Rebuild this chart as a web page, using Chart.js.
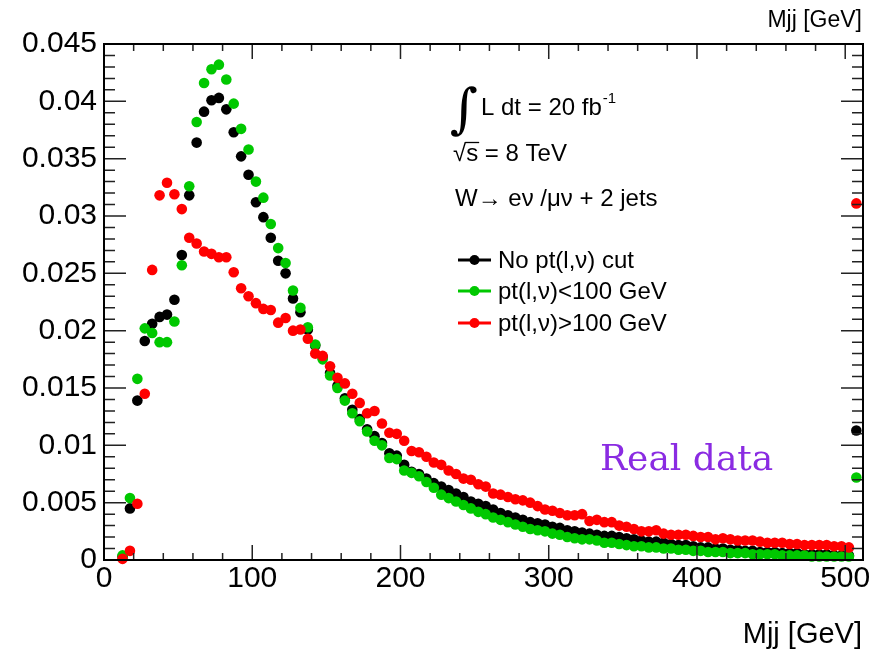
<!DOCTYPE html>
<html>
<head>
<meta charset="utf-8">
<title>Mjj distribution</title>
<script src="https://cdn.jsdelivr.net/npm/chart.js@4.4.1/dist/chart.umd.min.js"></script>
<style>
  html, body { margin: 0; padding: 0; background: #fff; }
  #wrap { width: 875px; height: 649px; }
</style>
</head>
<body>
<div id="wrap"><canvas id="mjjChart" width="875" height="649"></canvas></div>
<script>
// histogram binning: 100 bins of 5 GeV starting at 10 GeV (last bin holds the overflow)
const binLow = 10;
const binWidth = 5;
const nBins = 100;
const mjj = [];
for (let i = 0; i < nBins; i++) mjj.push(binLow + binWidth * (i + 0.5));

// normalised Mjj shapes, one row per 50 GeV
const noCut = [
  0.0003, 0.0045, 0.0139, 0.0191, 0.0206, 0.0212, 0.0214, 0.0227, 0.0266, 0.0318,
  0.0364, 0.0391, 0.0401, 0.0403, 0.0393, 0.0373, 0.0352, 0.0336, 0.0312, 0.0299,
  0.0281, 0.0261, 0.0250, 0.0228, 0.0216, 0.0201, 0.0187, 0.0177, 0.0163, 0.0152,
  0.0141, 0.0131, 0.0123, 0.0114, 0.0108, 0.0102, 0.0093, 0.0091, 0.0083, 0.0077,
  0.0075, 0.0071, 0.0067, 0.0064, 0.0061, 0.0058, 0.0055, 0.0051, 0.0049, 0.0047,
  0.0044, 0.0041, 0.0039, 0.0037, 0.0035, 0.0033, 0.0032, 0.0031, 0.0029, 0.0028,
  0.0026, 0.0025, 0.0024, 0.0023, 0.0022, 0.0021, 0.0021, 0.0020, 0.0019, 0.0018,
  0.0017, 0.0016, 0.0016, 0.0015, 0.0014, 0.0013, 0.0013, 0.0012, 0.0011, 0.0011,
  0.0010, 0.0010, 0.0009, 0.0009, 0.0008, 0.0008, 0.0007, 0.0007, 0.0007, 0.0006,
  0.0006, 0.0006, 0.0005, 0.0005, 0.0005, 0.0005, 0.0004, 0.0004, 0.0004, 0.0113
];
const ptBelow100 = [
  0.0004, 0.0054, 0.0158, 0.0202, 0.0198, 0.0190, 0.0190, 0.0208, 0.0257, 0.0326,
  0.0382, 0.0416, 0.0428, 0.0432, 0.0419, 0.0398, 0.0376, 0.0358, 0.0330, 0.0316,
  0.0293, 0.0272, 0.0259, 0.0235, 0.0220, 0.0203, 0.0188, 0.0175, 0.0161, 0.0150,
  0.0139, 0.0128, 0.0121, 0.0112, 0.0104, 0.0100, 0.0089, 0.0088, 0.0078, 0.0076,
  0.0073, 0.0068, 0.0063, 0.0057, 0.0054, 0.0051, 0.0048, 0.0045, 0.0042, 0.0040,
  0.0037, 0.0035, 0.0033, 0.0031, 0.0029, 0.0027, 0.0026, 0.0025, 0.0023, 0.0022,
  0.0020, 0.0019, 0.0018, 0.0018, 0.0017, 0.0015, 0.0015, 0.0014, 0.0013, 0.0012,
  0.0012, 0.0011, 0.0011, 0.0010, 0.0010, 0.0009, 0.0009, 0.0008, 0.0008, 0.0007,
  0.0007, 0.0007, 0.0006, 0.0006, 0.0006, 0.0005, 0.0005, 0.0005, 0.0005, 0.0004,
  0.0004, 0.0004, 0.0004, 0.0003, 0.0003, 0.0003, 0.0003, 0.0003, 0.0003, 0.0072
];
const ptAbove100 = [
  0.0001, 0.0008, 0.0049, 0.0145, 0.0253, 0.0318, 0.0329, 0.0319, 0.0306, 0.0281,
  0.0276, 0.0269, 0.0267, 0.0264, 0.0264, 0.0251, 0.0237, 0.0230, 0.0224, 0.0219,
  0.0218, 0.0207, 0.0211, 0.0200, 0.0201, 0.0193, 0.0180, 0.0178, 0.0169, 0.0159,
  0.0154, 0.0145, 0.0137, 0.0128, 0.0130, 0.0119, 0.0111, 0.0110, 0.0104, 0.0095,
  0.0094, 0.0090, 0.0085, 0.0083, 0.0078, 0.0075, 0.0071, 0.0070, 0.0066, 0.0064,
  0.0058, 0.0057, 0.0055, 0.0053, 0.0052, 0.0050, 0.0047, 0.0044, 0.0043, 0.0041,
  0.0039, 0.0039, 0.0040, 0.0034, 0.0035, 0.0033, 0.0033, 0.0030, 0.0029, 0.0027,
  0.0025, 0.0025, 0.0026, 0.0023, 0.0022, 0.0022, 0.0022, 0.0021, 0.0020, 0.0020,
  0.0018, 0.0019, 0.0018, 0.0017, 0.0017, 0.0017, 0.0016, 0.0015, 0.0015, 0.0015,
  0.0014, 0.0014, 0.0013, 0.0013, 0.0013, 0.0013, 0.0012, 0.0012, 0.0011, 0.0311
];

const seriesLabels = ['No pt(l,\u03BD) cut', 'pt(l,\u03BD)<100 GeV', 'pt(l,\u03BD)>100 GeV'];
const xTicks = [0, 100, 200, 300, 400, 500];
const yTicks = [0, 0.005, 0.01, 0.015, 0.02, 0.025, 0.03, 0.035, 0.04, 0.045];

const sans = "'Liberation Sans', Arial, Helvetica, sans-serif";
const toPoints = (vals) => vals.map((v, i) => ({ x: mjj[i], y: v }));

// ROOT-like frame: inward ticks on all four sides, axis titles, legend and labels
const rootFrame = {
  id: 'rootFrame',
  afterDraw(chart) {
    const { ctx, chartArea: a, scales: { x, y } } = chart;
    ctx.save();

    ctx.strokeStyle = '#222';
    ctx.lineWidth = 1.5;
    ctx.beginPath();
    for (let v = 0; v <= 500; v += 20) {
      const px = x.getPixelForValue(v);
      const len = v % 100 === 0 ? 15 : 7;
      ctx.moveTo(px, a.bottom); ctx.lineTo(px, a.bottom - len);
      ctx.moveTo(px, a.top); ctx.lineTo(px, a.top + len);
    }
    for (let k = 0; k <= 45; k++) {
      const py = y.getPixelForValue(k / 1000);
      const len = k % 5 === 0 ? 22 : 11;
      ctx.moveTo(a.left, py); ctx.lineTo(a.left + len, py);
      ctx.moveTo(a.right, py); ctx.lineTo(a.right - len, py);
    }
    ctx.stroke();

    ctx.strokeStyle = '#000';
    ctx.lineWidth = 2;
    ctx.strokeRect(a.left, a.top, a.right - a.left, a.bottom - a.top);

    // axis titles
    ctx.fillStyle = '#000';
    ctx.textAlign = 'right';
    ctx.textBaseline = 'alphabetic';
    ctx.font = '23px ' + sans;
    ctx.fillText('Mjj [GeV]', 862, 27);
    ctx.font = '29px ' + sans;
    ctx.fillText('Mjj [GeV]', 862, 643);

    // luminosity / energy / channel
    ctx.textAlign = 'left';
    ctx.font = '54px "DejaVu Serif", serif';
    ctx.fillText('\u222B', 450, 127);
    ctx.font = '24px ' + sans;
    ctx.fillText('L dt = 20 fb', 481, 115);
    const fbW = ctx.measureText('L dt = 20 fb').width;
    ctx.font = '15px ' + sans;
    ctx.fillText('-1', 481 + fbW + 1, 103);

    ctx.font = '24px ' + sans;
    const rootW = ctx.measureText('\u221A').width;
    const sW = ctx.measureText('s').width;
    ctx.fillText('\u221As = 8 TeV', 453, 161);
    ctx.lineWidth = 1.3;
    ctx.beginPath();
    ctx.moveTo(453 + rootW - 1, 142.5);
    ctx.lineTo(453 + rootW + sW + 1, 142.5);
    ctx.stroke();

    ctx.fillText('W\u2192 e\u03BD /\u03BC\u03BD + 2 jets', 455, 206);

    // legend
    const rows = [260, 291, 323];
    ctx.font = '24px ' + sans;
    ctx.textBaseline = 'middle';
    [0, 1, 2].forEach((d, i) => {
      const col = chart.data.datasets[d].backgroundColor;
      ctx.strokeStyle = col;
      ctx.fillStyle = col;
      ctx.lineWidth = 3;
      ctx.beginPath();
      ctx.moveTo(458, rows[i]); ctx.lineTo(491, rows[i]);
      ctx.stroke();
      ctx.beginPath();
      ctx.arc(474.5, rows[i], 5, 0, Math.PI * 2);
      ctx.fill();
      ctx.fillStyle = '#000';
      ctx.fillText(seriesLabels[d], 498, rows[i] + 1);
    });

    ctx.textBaseline = 'alphabetic';
    ctx.fillStyle = '#8a2be2';
    ctx.font = '36px "DejaVu Serif", serif';
    ctx.fillText('Real data', 600, 470);

    ctx.restore();
  }
};

const ctx = document.querySelector('#mjjChart');
new Chart(ctx, {
  type: 'scatter',
  data: {
    datasets: [
      { label: seriesLabels[0], data: toPoints(noCut), backgroundColor: '#000000', borderColor: '#000000', order: 3 },
      { label: seriesLabels[1], data: toPoints(ptBelow100), backgroundColor: '#00c800', borderColor: '#00c800', order: 2 },
      { label: seriesLabels[2], data: toPoints(ptAbove100), backgroundColor: '#ff0000', borderColor: '#ff0000', order: 1 }
    ]
  },
  options: {
    responsive: false,
    animation: false,
    layout: { padding: { top: 44, right: 12, left: 0, bottom: 0 } },
    elements: { point: { radius: 5.3, borderWidth: 0, hoverRadius: 5.3 } },
    datasets: { scatter: { clip: false } },
    plugins: { legend: { display: false }, tooltip: { enabled: false } },
    scales: {
      x: {
        type: 'linear',
        min: 0,
        max: 512,
        afterBuildTicks: (s) => { s.ticks = xTicks.map(v => ({ value: v })); },
        afterFit: (s) => { s.height = 89; },
        grid: { display: false, drawTicks: false },
        border: { display: false },
        ticks: { color: '#000', padding: 1, maxRotation: 0, font: { family: sans, size: 30 } }
      },
      y: {
        type: 'linear',
        min: 0,
        max: 0.045,
        afterBuildTicks: (s) => { s.ticks = yTicks.map(v => ({ value: v })); },
        afterFit: (s) => { s.width = 104; },
        grid: { display: false, drawTicks: false },
        border: { display: false },
        ticks: {
          color: '#000',
          padding: 7,
          font: { family: sans, size: 30 },
          callback: (v) => (v === 0 ? '0' : String(v))
        }
      }
    }
  },
  plugins: [rootFrame]
});
</script>
</body>
</html>
